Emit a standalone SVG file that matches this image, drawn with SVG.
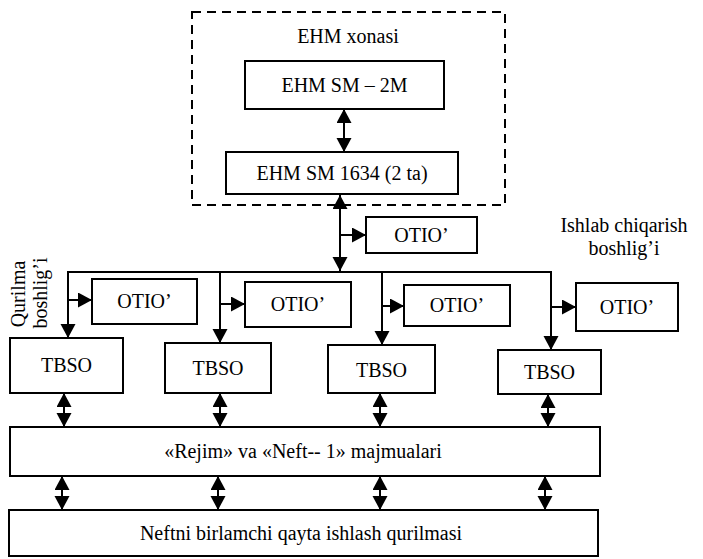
<svg xmlns="http://www.w3.org/2000/svg" width="703" height="559" viewBox="0 0 703 559">
  <style>
    .box { fill: #fff; stroke: #000; stroke-width: 2; }
    .room { fill: none; stroke: #000; stroke-width: 2; stroke-dasharray: 9 6; }
    .lbl { font-family: 'Liberation Serif', 'DejaVu Serif', serif; font-size: 20px; fill: #000; text-anchor: middle; }
    .wire { fill: none; stroke: #000; stroke-width: 2; }
    .one { marker-end: url(#head); }
    .two { marker-start: url(#head); marker-end: url(#head); }
  </style>
  <defs>
    <marker id="head" markerUnits="userSpaceOnUse" markerWidth="16" markerHeight="16" refX="14" refY="7.5" orient="auto-start-reverse">
      <path d="M0,0 L14,7.5 L0,15 z" fill="#000"/>
    </marker>
  </defs>
  <rect width="703" height="559" fill="#fff"/>

  <!-- computer room -->
  <g id="ehm-room">
    <rect class="room" x="192" y="12" width="313" height="193"/>
    <text class="lbl" font-family="Liberation Serif, serif" x="348" y="43">EHM xonasi</text>
  </g>
  <g id="ehm-sm2m">
    <rect class="box" x="245" y="61" width="199" height="48"/>
    <text class="lbl" font-family="Liberation Serif, serif" x="344.5" y="92">EHM SM – 2M</text>
  </g>
  <g id="ehm-sm1634">
    <rect class="box" x="226" y="152" width="232" height="42"/>
    <text class="lbl" font-family="Liberation Serif, serif" x="342" y="180">EHM SM 1634 (2 ta)</text>
  </g>

  <!-- operator terminals -->
  <g id="otio-top">
    <rect class="box" x="366" y="217" width="111" height="36"/>
    <text class="lbl" font-family="Liberation Serif, serif" x="421.5" y="242">OTIO’</text>
  </g>
  <g id="otio-1">
    <rect class="box" x="92" y="279" width="105" height="45"/>
    <text class="lbl" font-family="Liberation Serif, serif" x="144.5" y="308">OTIO’</text>
  </g>
  <g id="otio-2">
    <rect class="box" x="245" y="282" width="106" height="45"/>
    <text class="lbl" font-family="Liberation Serif, serif" x="298" y="311">OTIO’</text>
  </g>
  <g id="otio-3">
    <rect class="box" x="404" y="285" width="106" height="41"/>
    <text class="lbl" font-family="Liberation Serif, serif" x="457" y="312">OTIO’</text>
  </g>
  <g id="otio-4">
    <rect class="box" x="576" y="283" width="102" height="48"/>
    <text class="lbl" font-family="Liberation Serif, serif" x="627" y="314">OTIO’</text>
  </g>

  <!-- station controllers -->
  <g id="tbso-1">
    <rect class="box" x="10" y="338" width="113" height="55"/>
    <text class="lbl" font-family="Liberation Serif, serif" x="66.5" y="372">TBSO</text>
  </g>
  <g id="tbso-2">
    <rect class="box" x="165" y="343" width="106" height="50"/>
    <text class="lbl" font-family="Liberation Serif, serif" x="218" y="375">TBSO</text>
  </g>
  <g id="tbso-3">
    <rect class="box" x="328" y="345" width="107" height="48"/>
    <text class="lbl" font-family="Liberation Serif, serif" x="381.5" y="377">TBSO</text>
  </g>
  <g id="tbso-4">
    <rect class="box" x="498" y="350" width="103" height="44"/>
    <text class="lbl" font-family="Liberation Serif, serif" x="549.5" y="379">TBSO</text>
  </g>

  <!-- software complexes and plant -->
  <g id="majmualar">
    <rect class="box" x="10" y="427" width="590" height="49"/>
    <text class="lbl" font-family="Liberation Serif, serif" x="303" y="458">«Rejim» va «Neft-- 1» majmualari</text>
  </g>
  <g id="qurilma">
    <rect class="box" x="9" y="510" width="589" height="46"/>
    <text class="lbl" font-family="Liberation Serif, serif" x="301" y="540">Neftni birlamchi qayta ishlash qurilmasi</text>
  </g>

  <!-- side captions -->
  <g id="ishlab-boshligi">
    <text class="lbl" font-family="Liberation Serif, serif" x="624" y="232">Ishlab chiqarish</text>
    <text class="lbl" font-family="Liberation Serif, serif" x="624" y="255">boshlig’i</text>
  </g>
  <g id="qurilma-boshligi">
    <text class="lbl" font-family="Liberation Serif, serif" transform="translate(25,294) rotate(-90)">Qurilma</text>
    <text class="lbl" font-family="Liberation Serif, serif" transform="translate(47,293) rotate(-90)">boshlig’i</text>
  </g>

  <!-- connectors -->
  <g id="connectors">
    <line class="wire two" x1="344" y1="109" x2="344" y2="152"/>
    <line class="wire two" x1="340" y1="195" x2="340" y2="271"/>
    <line class="wire one" x1="340" y1="235" x2="366" y2="235"/>

    <polyline class="wire" points="68,330 68,272 551,272 551,340"/>
    <line class="wire one" x1="68" y1="300" x2="68" y2="338"/>
    <line class="wire one" x1="68" y1="300" x2="92" y2="300"/>
    <line class="wire one" x1="220" y1="272" x2="220" y2="343"/>
    <line class="wire one" x1="220" y1="304" x2="245" y2="304"/>
    <line class="wire one" x1="382" y1="272" x2="382" y2="345"/>
    <line class="wire one" x1="382" y1="306" x2="404" y2="306"/>
    <line class="wire one" x1="551" y1="300" x2="551" y2="350"/>
    <line class="wire one" x1="551" y1="307" x2="576" y2="307"/>

    <line class="wire two" x1="64" y1="393" x2="64" y2="427"/>
    <line class="wire two" x1="220" y1="393" x2="220" y2="427"/>
    <line class="wire two" x1="380" y1="393" x2="380" y2="427"/>
    <line class="wire two" x1="548" y1="394" x2="548" y2="427"/>

    <line class="wire two" x1="62" y1="476" x2="62" y2="510"/>
    <line class="wire two" x1="218" y1="476" x2="218" y2="510"/>
    <line class="wire two" x1="380" y1="476" x2="380" y2="510"/>
    <line class="wire two" x1="545" y1="476" x2="545" y2="510"/>
  </g>
</svg>
